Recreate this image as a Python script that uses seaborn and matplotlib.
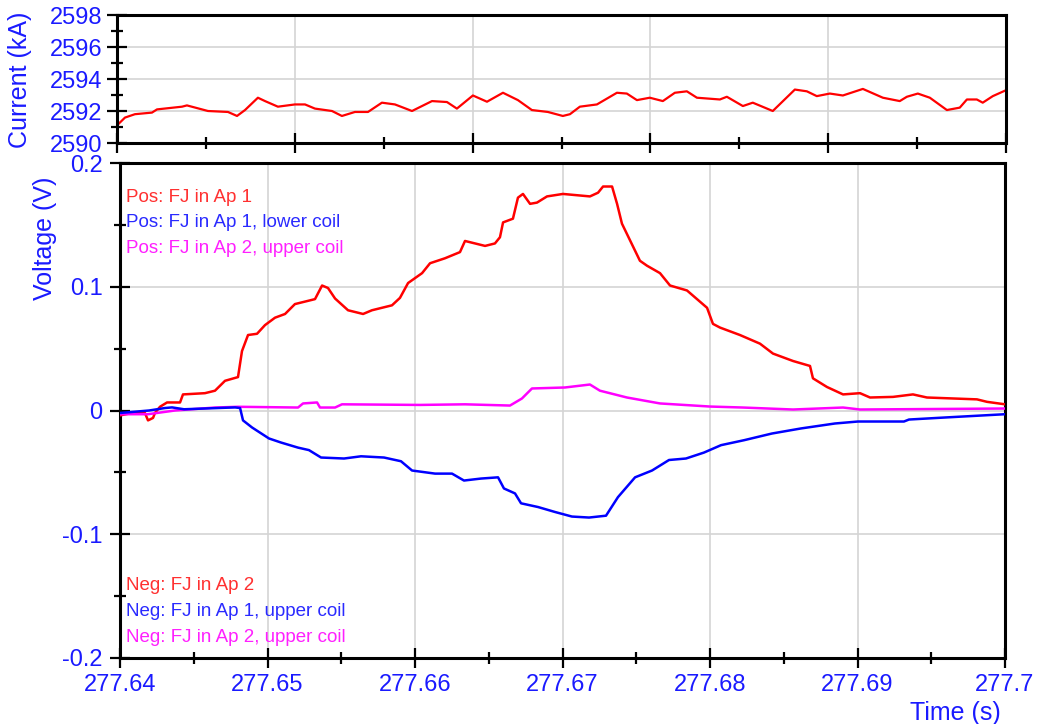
import numpy as np
import pandas as pd
import matplotlib
matplotlib.use("Agg")
import matplotlib.pyplot as plt
import seaborn as sns
from matplotlib.ticker import FixedLocator, FixedFormatter, MultipleLocator

T0 = 277.64  # time origin (s); offsets below are in ms

# ---- current (kA) ----
cur_ms = [0.0, 0.54, 1.21, 2.36, 2.70, 4.39, 4.72, 6.14, 7.49, 8.10, 8.64, 9.51, 9.99,
          10.86, 12.01, 12.69, 13.36, 14.51, 15.18, 16.06, 16.94, 17.88, 18.76, 19.91,
          21.26, 22.27, 22.94, 24.02, 24.97, 26.05, 27.06, 28.00, 29.08, 30.09, 30.57,
          31.24, 32.39, 33.74, 34.41, 35.09, 35.96, 36.84, 37.65, 38.46, 39.14, 40.69,
          41.16, 42.24, 42.91, 44.26, 45.75, 46.56, 47.23, 48.11, 48.99, 50.34, 51.69,
          52.83, 53.31, 54.05, 54.86, 56.01, 56.88, 57.36, 58.03, 58.43, 59.11, 60.0]
cur_kA = [2591.10, 2591.59, 2591.80, 2591.90, 2592.10, 2592.27, 2592.35, 2592.00, 2591.94,
          2591.69, 2592.06, 2592.83, 2592.62, 2592.27, 2592.41, 2592.41, 2592.15, 2592.00,
          2591.69, 2591.94, 2591.94, 2592.52, 2592.41, 2592.00, 2592.62, 2592.56, 2592.15,
          2592.97, 2592.58, 2593.14, 2592.68, 2592.06, 2591.94, 2591.69, 2591.80, 2592.27,
          2592.41, 2593.14, 2593.09, 2592.68, 2592.83, 2592.62, 2593.14, 2593.23, 2592.83,
          2592.72, 2592.89, 2592.31, 2592.52, 2592.00, 2593.34, 2593.23, 2592.93, 2593.09,
          2592.97, 2593.38, 2592.83, 2592.62, 2592.89, 2593.09, 2592.83, 2592.06, 2592.21,
          2592.72, 2592.72, 2592.52, 2592.93, 2593.30]

# ---- voltage: red (Pos: FJ in Ap 1) ----
red_ms = [0, 0.81, 1.69, 1.90, 2.24, 2.37, 2.71, 3.19, 4.07, 4.27, 5.76, 6.44, 7.12, 8.00,
          8.27, 8.68, 9.29, 9.83, 10.51, 11.19, 11.86, 13.22, 13.70, 14.10, 14.58, 15.46,
          16.48, 17.08, 18.44, 18.98, 19.53, 20.48, 21.02, 22.03, 23.05, 23.39, 24.07,
          24.75, 25.42, 25.76, 25.97, 26.64, 26.98, 27.32, 27.80, 28.27, 28.95, 30.03,
          31.86, 32.41, 32.75, 33.36, 33.70, 34.03, 35.25, 35.73, 36.61, 37.29, 38.44,
          39.80, 40.20, 40.68, 42.03, 43.39, 44.27, 45.63, 46.78, 46.98, 47.93, 49.02,
          50.17, 50.85, 52.41, 53.76, 54.71, 58.10, 58.78, 60.0]
red_v = [-0.004, -0.002, -0.002, -0.008, -0.006, -0.002, 0.003, 0.0065, 0.0065, 0.013,
         0.014, 0.016, 0.024, 0.027, 0.048, 0.061, 0.062, 0.069, 0.075, 0.078, 0.086,
         0.090, 0.101, 0.099, 0.0905, 0.081, 0.078, 0.081, 0.085, 0.091, 0.103, 0.111,
         0.119, 0.123, 0.128, 0.137, 0.135, 0.133, 0.135, 0.140, 0.152, 0.155, 0.172,
         0.175, 0.167, 0.168, 0.173, 0.175, 0.173, 0.176, 0.181, 0.181, 0.167, 0.151,
         0.121, 0.117, 0.111, 0.101, 0.097, 0.083, 0.070, 0.067, 0.061, 0.054, 0.046,
         0.040, 0.036, 0.026, 0.019, 0.013, 0.014, 0.0105, 0.011, 0.013, 0.0105, 0.009,
         0.007, 0.005]

# ---- voltage: blue (Pos: FJ in Ap 1, lower coil) ----
blue_ms = [0, 1.97, 3.05, 3.53, 4.34, 6.64, 7.80, 8.14, 8.34, 8.95, 10.10, 10.92, 12.07,
           12.81, 13.63, 15.19, 16.34, 17.90, 19.05, 19.80, 21.36, 22.51, 23.32, 24.47,
           25.63, 26.03, 26.78, 27.19, 28.34, 29.49, 30.64, 31.80, 32.95, 33.22, 33.76,
           34.92, 36.07, 37.22, 38.37, 39.59, 40.75, 42.31, 44.20, 46.17, 48.47, 50.03,
           53.15, 53.49, 55.86, 60.0]
blue_v = [-0.002, 0.0, 0.002, 0.0025, 0.001, 0.002, 0.0025, 0.002, -0.008, -0.0137,
          -0.0226, -0.0259, -0.030, -0.032, -0.038, -0.0388, -0.037, -0.038, -0.041,
          -0.0485, -0.051, -0.051, -0.0566, -0.055, -0.054, -0.063, -0.067, -0.075,
          -0.078, -0.082, -0.0857, -0.0865, -0.085, -0.080, -0.070, -0.054, -0.0485,
          -0.040, -0.0388, -0.034, -0.028, -0.024, -0.0186, -0.0145, -0.0105, -0.0089,
          -0.0089, -0.0073, -0.0057, -0.003]

# ---- voltage: magenta (Pos: FJ in Ap 2, upper coil) ----
mag_ms = [0, 1.90, 3.73, 6.44, 8.00, 12.07, 12.41, 13.36, 13.56, 14.58, 15.05, 20.34,
          23.39, 26.44, 27.25, 27.93, 30.17, 31.86, 32.54, 34.37, 36.61, 40.0, 42.24,
          45.63, 49.02, 50.17, 60.0]
mag_v = [-0.003, -0.003, 0.0, 0.0024, 0.003, 0.0024, 0.0057, 0.0065, 0.0024, 0.0024,
         0.005, 0.0045, 0.005, 0.004, 0.0097, 0.0178, 0.0186, 0.021, 0.016, 0.0105,
         0.0057, 0.0032, 0.0024, 0.0008, 0.0024, 0.0008, 0.0016]

x_ticks = [277.64, 277.65, 277.66, 277.67, 277.68, 277.69, 277.70]
x_ticklabels = ["277.64", "277.65", "277.66", "277.67", "277.68", "277.69", "277.7"]
v_ticks = [-0.2, -0.1, 0.0, 0.1, 0.2]
v_ticklabels = ["-0.2", "-0.1", "0", "0.1", "0.2"]
i_ticks = [2590, 2592, 2594, 2596, 2598]
i_ticklabels = ["2590", "2592", "2594", "2596", "2598"]

pos_labels = ["Pos: FJ in Ap 1", "Pos: FJ in Ap 1, lower coil", "Pos: FJ in Ap 2, upper coil"]
neg_labels = ["Neg: FJ in Ap 2", "Neg: FJ in Ap 1, upper coil", "Neg: FJ in Ap 2, upper coil"]

RED, BLUE, MAG = "#ff0000", "#0000ff", "#ff00ff"
TXT_COLORS = ["#ff3030", "#2a2aff", "#ff20ff"]
LBL = "#1a1aff"
GRID = "#d4d4d4"

sns.set_theme(style="white")
plt.rcParams["font.family"] = ["Liberation Sans", "DejaVu Sans"]

fig = plt.figure(figsize=(10.41, 7.24), dpi=100)
ax_i = fig.add_axes([117 / 1041, 1 - 143 / 724, 889 / 1041, 128 / 724])
ax_v = fig.add_axes([120 / 1041, 1 - 658 / 724, 885 / 1041, 495 / 724])

def t_of(ms):
    return T0 + np.asarray(ms) / 1000.0

df_i = pd.DataFrame({"t": t_of(cur_ms), "I": cur_kA})
sns.lineplot(data=df_i, x="t", y="I", ax=ax_i, color=RED, lw=1.6,
             estimator=None, sort=False, legend=False)

series = [(red_ms, red_v, RED), (mag_ms, mag_v, MAG), (blue_ms, blue_v, BLUE)]
for ms, v, c in series:
    df = pd.DataFrame({"t": t_of(ms), "V": v})
    sns.lineplot(data=df, x="t", y="V", ax=ax_v, color=c, lw=1.8,
                 estimator=None, sort=False, legend=False, zorder=3)

for ax in (ax_i, ax_v):
    ax.set_xlim(277.64, 277.70)
    ax.set_xlabel("")
    ax.set_ylabel("")
    for s in ax.spines.values():
        s.set_color("black")
        s.set_linewidth(2.2)
        s.set_visible(True)
    ax.grid(True, which="major", color=GRID, lw=1.2)
    ax.set_axisbelow(True)
    ax.tick_params(axis="both", which="major", direction="inout", length=15,
                   width=1.6, color="black", labelcolor=LBL, labelsize=17,
                   left=True, bottom=True, right=False, top=False)
    ax.tick_params(axis="both", which="minor", direction="inout", length=9,
                   width=1.6, color="black", left=True, bottom=True,
                   right=False, top=False)

# top panel
ax_i.set_ylim(2590, 2598)
ax_i.yaxis.set_major_locator(FixedLocator(i_ticks))
ax_i.yaxis.set_major_formatter(FixedFormatter(i_ticklabels))
ax_i.yaxis.set_minor_locator(MultipleLocator(1))
ax_i.xaxis.set_major_locator(FixedLocator(list(np.linspace(277.64, 277.70, 6))))
ax_i.xaxis.set_minor_locator(FixedLocator(list(np.linspace(277.64, 277.70, 11))))
ax_i.tick_params(axis="x", which="both", labelbottom=False)
ax_i.tick_params(axis="y", which="major", pad=3)

# bottom panel
ax_v.set_ylim(-0.2, 0.2)
ax_v.yaxis.set_major_locator(FixedLocator(v_ticks))
ax_v.yaxis.set_major_formatter(FixedFormatter(v_ticklabels))
ax_v.yaxis.set_minor_locator(MultipleLocator(0.05))
ax_v.xaxis.set_major_locator(FixedLocator(x_ticks))
ax_v.xaxis.set_major_formatter(FixedFormatter(x_ticklabels))
ax_v.xaxis.set_minor_locator(MultipleLocator(0.005))
ax_v.tick_params(axis="y", which="major", pad=5)
ax_v.tick_params(axis="x", which="major", pad=4)

# legend texts
for lbl, c, y in zip(pos_labels, TXT_COLORS, [0.9212, 0.8697, 0.8182]):
    ax_v.text(0.007, y, lbl, color=c, fontsize=13.5, transform=ax_v.transAxes,
              ha="left", va="baseline", zorder=5)
for lbl, c, y in zip(neg_labels, TXT_COLORS, [0.1374, 0.0848, 0.0323]):
    ax_v.text(0.007, y, lbl, color=c, fontsize=13.5, transform=ax_v.transAxes,
              ha="left", va="baseline", zorder=5)

# axis titles
fig.text(20 / 1041, 1 - 80 / 724, "Current (kA)", rotation=90, color=LBL,
         fontsize=18, ha="center", va="center")
fig.text(45 / 1041, 1 - 238 / 724, "Voltage (V)", rotation=90, color=LBL,
         fontsize=18, ha="center", va="center")
fig.text(955 / 1041, 1 - 713 / 724, "Time (s)", color=LBL, fontsize=18,
         ha="center", va="center")

fig.savefig("out.png", dpi=100, facecolor="white")
